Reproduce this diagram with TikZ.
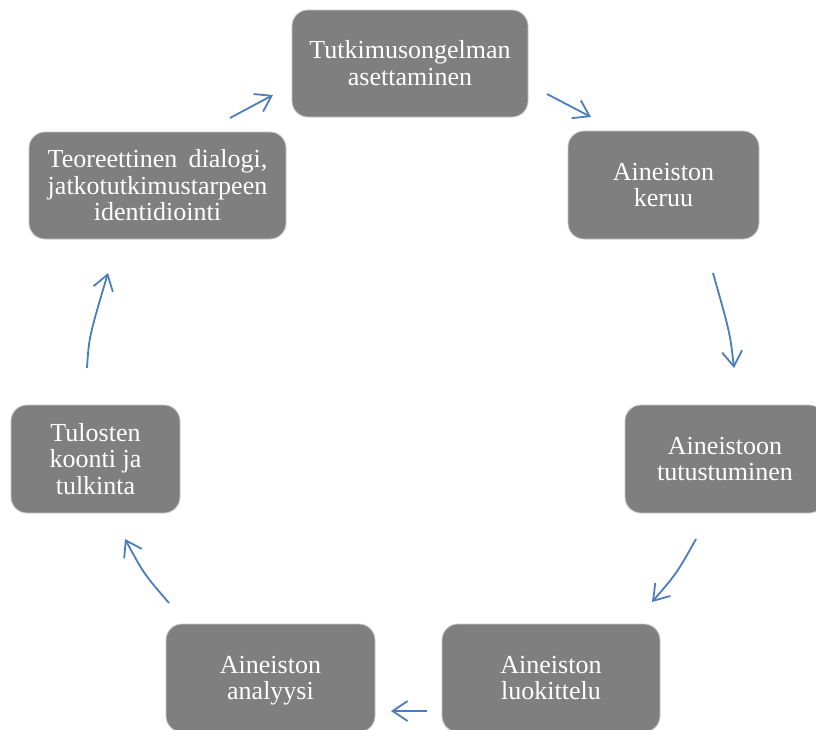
\documentclass[tikz,border=0pt]{standalone}
\usepackage{fontspec}
\setmainfont{Liberation Serif}
\usetikzlibrary{arrows.meta}
\definecolor{boxgray}{RGB}{127,127,127}
\definecolor{boxedge}{RGB}{200,200,200}
\definecolor{arrowblue}{RGB}{74,126,187}
\newlength\jlen
\newcommand\topst{\rule{0pt}{20pt}}
\newcommand\botst{\rule[-2.6pt]{0pt}{2.6pt}}
\begin{document}
\begin{tikzpicture}[x=1pt,y=-1pt,
  stepbox/.style={rectangle, rounded corners=16pt, fill=boxgray, draw=boxedge, line width=0.8pt,
    inner sep=0pt, text=white, align=center,
    font=\fontsize{26}{26.5}\selectfont},
  cyclearrow/.style={draw=arrowblue, line width=1.8pt,
    -{Straight Barb[length=15pt,width=20pt,line width=1.8pt]}}
]
\clip (0,0) rectangle (816,729);
\fill[white] (0,0) rectangle (816,729);

\node[stepbox, minimum width=236pt, minimum height=107pt] (n1) at (410,63.5) {\topst Tutkimusongelman\\asettaminen\botst};
\node[stepbox, minimum width=191pt, minimum height=108pt] (n2) at (663.5,185) {\topst Aineiston\\keruu\botst};
\node[stepbox, minimum width=200pt, minimum height=108pt] (n3) at (725,459) {\topst Aineistoon\\tutustuminen\botst};
\node[stepbox, minimum width=218pt, minimum height=108pt] (n4) at (551,678) {\topst Aineiston\\luokittelu\botst};
\node[stepbox, minimum width=209pt, minimum height=108pt] (n5) at (270.5,678) {\topst Aineiston\\\smash{analyysi}\botst};
\node[stepbox, minimum width=169pt, minimum height=108pt] (n6) at (95.5,459) {\topst Tulosten\\koonti ja\\tulkinta\botst};
\node[stepbox, minimum width=257pt, minimum height=107pt] (n7) at (157.5,185.5) {\settowidth\jlen{jatkotutkimustarpeen}\topst\makebox[\jlen][s]{Teoreettinen dialogi,}\\jatkotutkimustarpeen\\identidiointi\botst};

\coordinate (a1s) at (547,94);  \coordinate (a1e) at (591,117);
\coordinate (a2s) at (713,273); \coordinate (a2c) at (730,333); \coordinate (a2e) at (734,368);
\coordinate (a3s) at (696,539); \coordinate (a3c) at (677,573); \coordinate (a3e) at (652,602);
\coordinate (a4s) at (427,711); \coordinate (a4e) at (391,711);
\coordinate (a5s) at (169,603); \coordinate (a5c) at (144,574); \coordinate (a5e) at (125,539);
\coordinate (a6s) at (87,368);  \coordinate (a6c) at (89,337);  \coordinate (a6e) at (108,273);
\coordinate (a7s) at (230,118); \coordinate (a7e) at (273,95);

\draw[cyclearrow] (a1s) -- (a1e);
\draw[cyclearrow] (a2s) .. controls (a2c) .. (a2e);
\draw[cyclearrow] (a3s) .. controls (a3c) .. (a3e);
\draw[cyclearrow] (a4s) -- (a4e);
\draw[cyclearrow] (a5s) .. controls (a5c) .. (a5e);
\draw[cyclearrow] (a6s) .. controls (a6c) .. (a6e);
\draw[cyclearrow] (a7s) -- (a7e);
\end{tikzpicture}
\end{document}
